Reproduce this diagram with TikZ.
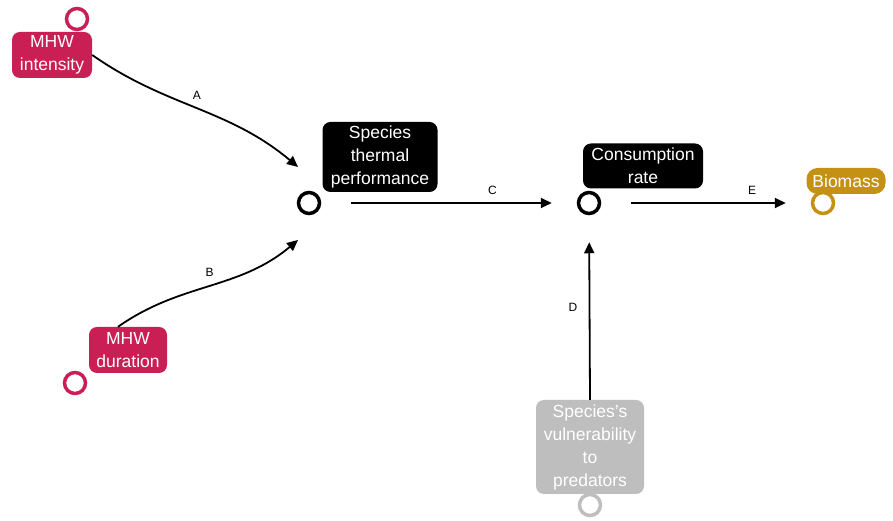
\documentclass[tikz,border=0pt]{standalone}
\usepackage{fontspec}
\setmainfont{Liberation Sans}
\usepackage{xcolor}
\definecolor{heat}{HTML}{C91F55}
\definecolor{gold}{HTML}{C49115}
\definecolor{pale}{HTML}{BEBEBE}
\usepackage{tikz}
\usetikzlibrary{arrows.meta}
\tikzset{
    driver/.style = {
      rounded corners=8pt,
      fill=heat,
      text=white,
      align=center,
      inner sep=0pt,
      font=\fontsize{17.5}{23}\selectfont
    },
    process/.style = {
      driver,
      fill=black
    },
    outcome/.style = {
      driver,
      fill=gold,
      rounded corners=11pt
    },
    prey/.style = {
      driver,
      fill=pale
    },
    ring/.style = {
      circle,
      draw,
      line width=3.5pt,
      minimum size=21pt,
      inner sep=0pt
    },
    link/.style = {
      ->,
      line width=1.8pt
    },
    tag/.style = {
      font=\fontsize{12}{14}\selectfont
    }
}

\begin{document}
\begin{tikzpicture}[x=1pt, y=1pt, >={Triangle[length=11pt,width=10pt]}]
      \useasboundingbox (0, 0) rectangle (893, 521);

      \node[driver, minimum width=80pt, minimum height=46pt]   (I)  at (52, 466)  {MHW\\intensity};
      \node[ring, draw=heat]                                   (Ir) at (77, 502)  {};
      \node[driver, minimum width=78pt, minimum height=46pt]   (D)  at (128, 171) {MHW\\duration};
      \node[ring, draw=heat]                                   (Dr) at (75, 138)  {};
      \node[process, minimum width=115pt, minimum height=70pt] (T)  at (380, 364) {Species\\thermal\\performance};
      \node[ring]                                              (Tr) at (309, 318) {};
      \node[process, minimum width=120pt, minimum height=45pt] (C)  at (643, 355) {Consumption\\rate};
      \node[ring]                                              (Cr) at (589, 318) {};
      \node[outcome, minimum width=79pt, minimum height=26pt]  (B)  at (846, 340) {Biomass};
      \node[ring, draw=gold]                                   (Br) at (823, 318) {};
      \node[prey, minimum width=108pt, minimum height=94pt]    (V)  at (590, 74)  {Species's\\vulnerability\\to\\predators};
      \node[ring, draw=pale]                                   (Vr) at (590, 16)  {};

      \coordinate (Ta) at (298, 354);
      \coordinate (Tb) at (298, 281);

      \draw[link] (I.east) to[out=-35, in=140] node[tag, above=5pt] {A} (Ta);
      \draw[link] ([xshift=-10pt]D.north) to[out=35, in=-140] node[tag, above=5pt] {B} (Tb);
      \draw[link, shorten <=30pt, shorten >=25pt] (Tr) -- node[tag, above=4pt, pos=0.67] {C} (Cr);
      \draw[link, shorten >=27pt] (V.north) -- node[tag, left=8pt] {D} (Cr);
      \draw[link, shorten <=30pt, shorten >=25pt] (Cr) -- node[tag, above=4pt, pos=0.72] {E} (Br);
    \end{tikzpicture}
\end{document}
